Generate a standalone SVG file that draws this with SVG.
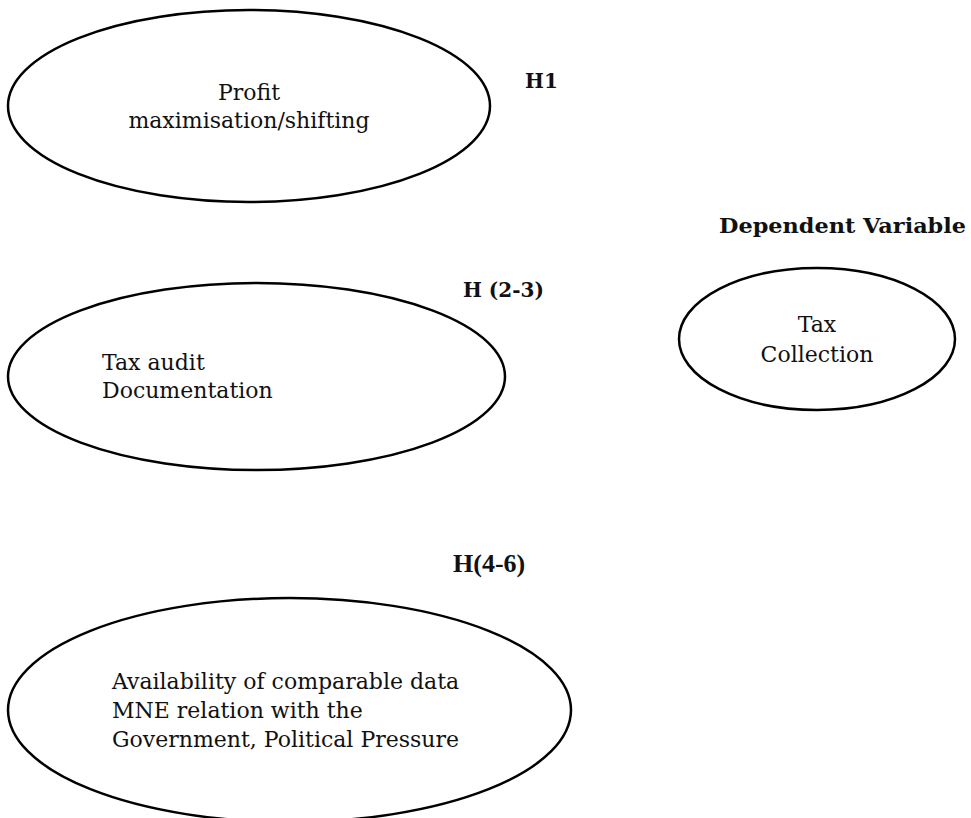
<svg xmlns="http://www.w3.org/2000/svg" width="971" height="818" viewBox="0 0 971 818">
<style>
.node ellipse { fill: #ffffff; stroke: #000000; stroke-width: 2.5; }
.t { font-family: "DejaVu Serif", "Liberation Serif", serif; font-size: 22px; fill: #111111; }
.b { font-family: "DejaVu Serif", "Liberation Serif", serif; font-size: 20px; font-weight: bold; fill: #111111; }
.b2 { font-family: "Liberation Serif", serif; font-size: 26px; font-weight: bold; fill: #111111; }
</style>
<rect width="971" height="818" fill="#ffffff"/>
<g id="profit" class="node">
  <ellipse cx="249" cy="106" rx="241" ry="96"/>
  <text class="t" x="249" y="100" text-anchor="middle">Profit</text>
  <text class="t" x="249" y="128" text-anchor="middle">maximisation/shifting</text>
</g>
<g id="audit" class="node">
  <ellipse cx="256.5" cy="376.5" rx="248.5" ry="93.5"/>
  <text class="t" x="102" y="370">Tax audit</text>
  <text class="t" x="102" y="398">Documentation</text>
</g>
<g id="tax" class="node">
  <ellipse cx="817" cy="339" rx="138" ry="71"/>
  <text class="t" x="817" y="332" text-anchor="middle">Tax</text>
  <text class="t" x="817" y="362" text-anchor="middle">Collection</text>
</g>
<g id="avail" class="node">
  <ellipse cx="289.5" cy="710" rx="281.5" ry="112"/>
  <text class="t" x="112" y="689">Availability of comparable data</text>
  <text class="t" x="112" y="718">MNE relation with the</text>
  <text class="t" x="112" y="747">Government, Political Pressure</text>
</g>
<g id="labels">
  <text class="b" x="525" y="88">H1</text>
  <text class="b" x="463" y="297">H (2-3)</text>
  <text class="b" x="719" y="233" font-size="23" textLength="247" lengthAdjust="spacingAndGlyphs">Dependent Variable</text>
  <text class="b2" x="453" y="572">H(4-6)</text>
</g>
<g id="connectors"></g>
</svg>
